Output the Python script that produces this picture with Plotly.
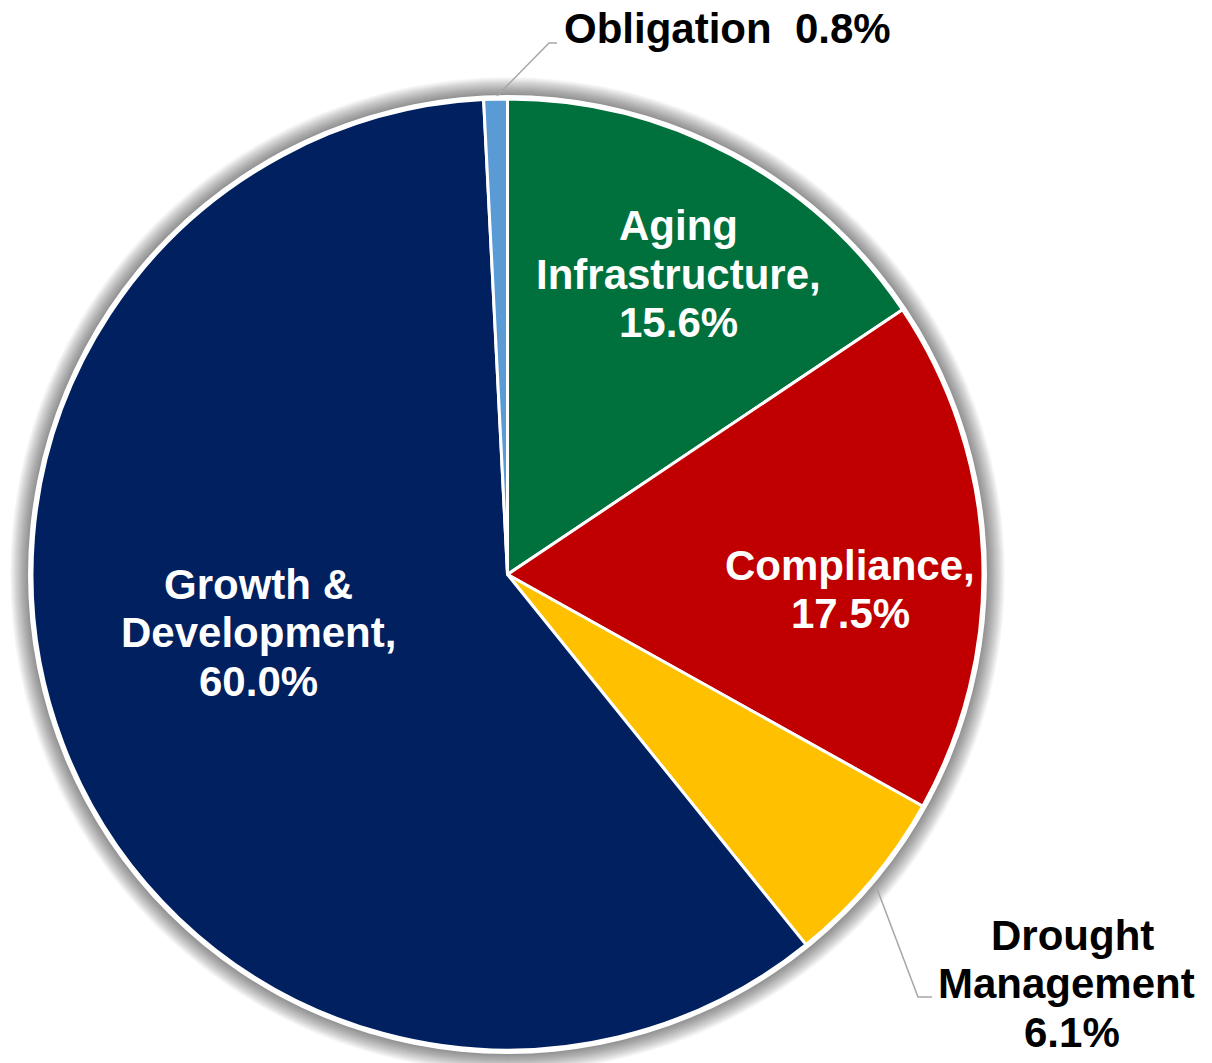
import plotly.graph_objects as go

# Capital program allocation by driver
categories = ["Aging Infrastructure", "Compliance", "Drought Management",
              "Growth & Development", "Obligation"]
shares = [15.6, 17.5, 6.1, 60.0, 0.8]
colors = ["#00703C", "#C00000", "#FFC000", "#002060", "#5B9BD5"]

# Label text as shown on the chart (line breaks per label)
label_lines = {
    "Aging Infrastructure": ["Aging", "Infrastructure,", "{v:.1f}%"],
    "Compliance": ["Compliance,", "{v:.1f}%"],
    "Drought Management": ["Drought", "Management", "{v:.1f}%"],
    "Growth & Development": ["Growth &", "Development,", "{v:.1f}%"],
    "Obligation": ["Obligation\u00a0\u00a0{v:.1f}%"],
}

W, H = 1212, 1063
CX, CY, R = 507.5, 574.5, 475.5  # pie centre and radius in pixels


def px(x):
    return x / W


def py(y):
    return 1 - y / H


# label anchor (centre of first line) in pixels, text colour, per-line x nudges
label_layout = {
    "Aging Infrastructure": (678, 226, "white", [0, 0, 0]),
    "Compliance": (850, 565, "white", [0, 0]),
    "Drought Management": (1066, 935, "black", [6, 0, 6]),
    "Growth & Development": (258, 584, "white", [0, 0, 0]),
    "Obligation": (727, 28, "black", [0]),
}
LINE_STEP = 48.5
FONT = "Liberation Sans, Arial, sans-serif"

fig = go.Figure()
fig.add_trace(go.Pie(
    labels=categories,
    values=shares,
    sort=False,
    direction="clockwise",
    rotation=0,
    textinfo="none",
    hoverinfo="label+percent",
    marker=dict(colors=colors, line=dict(color="white", width=3)),
    domain=dict(x=[px(CX - R), px(CX + R)], y=[py(CY + R), py(CY - R)]),
    showlegend=False,
))

shapes = []
# soft glow behind the pie
for k in range(18, 0, -1):
    rr = R + 4 + k
    shapes.append(dict(type="circle", xref="paper", yref="paper", layer="below",
                       x0=px(CX - rr), x1=px(CX + rr), y0=py(CY + rr), y1=py(CY - rr),
                       fillcolor="rgba(0,0,0,0.026)", line=dict(width=0)))
# white rim
rr = R + 4
shapes.append(dict(type="circle", xref="paper", yref="paper", layer="below",
                   x0=px(CX - rr), x1=px(CX + rr), y0=py(CY + rr), y1=py(CY - rr),
                   fillcolor="white", line=dict(width=0)))

# leader lines for the small slices
leaders = [
    [(497, 96), (549, 43), (557, 43)],
    [(876, 886), (918, 997), (932, 997)],
]
for pts in leaders:
    path = "M " + " L ".join(f"{px(x)},{py(y)}" for x, y in pts)
    shapes.append(dict(type="path", xref="paper", yref="paper", path=path,
                       line=dict(color="#A6A6A6", width=1.5), layer="above"))

annotations = []
for cat, v in zip(categories, shares):
    x0, y0, col, nudges = label_layout[cat]
    for i, line in enumerate(label_lines[cat]):
        annotations.append(dict(
            x=px(x0 + nudges[i]), y=py(y0 + i * LINE_STEP), xref="paper", yref="paper",
            text="<b>" + line.format(v=v).replace("&", "&amp;") + "</b>",
            showarrow=False, xanchor="center", yanchor="middle",
            font=dict(family=FONT, size=42, color=col),
        ))

fig.update_layout(
    width=W, height=H,
    margin=dict(l=0, r=0, t=0, b=0),
    paper_bgcolor="white", plot_bgcolor="white",
    shapes=shapes, annotations=annotations,
)

fig.write_html("out.html")
